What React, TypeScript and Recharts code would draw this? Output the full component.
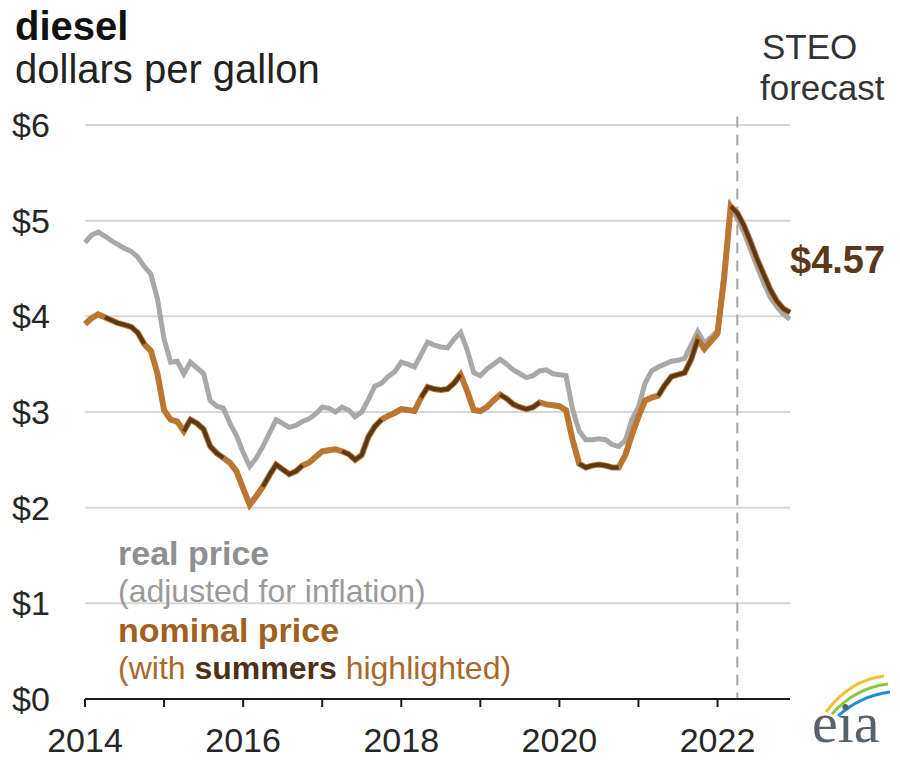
import { CartesianGrid, Line, LineChart, ReferenceLine, XAxis, YAxis } from "recharts";
import { type JSX } from "react";

// monthly, Jan 2014 .. Dec 2022 (index 0..107)
const startYear = 2014;

const realPrice: number[] = [
  // 2014
  4.77, 4.85, 4.88, 4.84, 4.79, 4.75, 4.71, 4.68, 4.62, 4.52, 4.44, 4.18,
  // 2015
  3.76, 3.52, 3.53, 3.4, 3.52, 3.46, 3.4, 3.12, 3.06, 3.04, 2.88, 2.75,
  // 2016
  2.58, 2.43, 2.52, 2.64, 2.78, 2.92, 2.88, 2.84, 2.86, 2.9, 2.93, 2.98,
  // 2017
  3.05, 3.04, 3.0, 3.05, 3.02, 2.95, 3.0, 3.13, 3.27, 3.3, 3.37, 3.42,
  // 2018
  3.52, 3.5, 3.47, 3.6, 3.73, 3.7, 3.68, 3.67, 3.76, 3.83, 3.65, 3.41,
  // 2019
  3.38, 3.45, 3.5, 3.55, 3.5, 3.44, 3.4, 3.36, 3.38, 3.43, 3.44, 3.4,
  // 2020
  3.39, 3.38, 3.03, 2.8, 2.71, 2.71, 2.72, 2.71, 2.66, 2.64, 2.7, 2.92,
  // 2021
  3.05, 3.3, 3.43, 3.47, 3.5, 3.53, 3.54, 3.56, 3.7, 3.84, 3.72, 3.78,
  // 2022
  3.85, 4.45, 5.15, 5.02, 4.88, 4.7, 4.52, 4.35, 4.2, 4.1, 4.02, 3.97,
];

const nominalPrice: number[] = [
  // 2014
  3.92, 3.98, 4.02, 3.99, 3.96, 3.93, 3.91, 3.89, 3.83, 3.71, 3.64, 3.4,
  // 2015
  3.02, 2.92, 2.9, 2.8, 2.92, 2.88, 2.82, 2.64, 2.57, 2.52, 2.47, 2.38,
  // 2016
  2.2, 2.03, 2.12, 2.22, 2.34, 2.45, 2.4, 2.35, 2.38, 2.44, 2.47, 2.53,
  // 2017
  2.59, 2.6, 2.61, 2.59, 2.56, 2.5, 2.55, 2.74, 2.85, 2.92, 2.96, 2.99,
  // 2018
  3.03, 3.02, 3.01, 3.15, 3.26, 3.24, 3.23, 3.24, 3.3, 3.39, 3.22, 3.02,
  // 2019
  3.01, 3.05, 3.12, 3.18, 3.14, 3.08, 3.05, 3.03, 3.05, 3.1, 3.08, 3.07,
  // 2020
  3.06, 3.02, 2.71, 2.46, 2.42, 2.44, 2.45, 2.44, 2.42, 2.42, 2.55, 2.76,
  // 2021
  2.95, 3.12, 3.15, 3.17, 3.28, 3.37, 3.39, 3.41, 3.55, 3.76, 3.66, 3.74,
  // 2022
  3.82, 4.4, 5.15, 5.08, 4.95, 4.78, 4.6, 4.44, 4.28, 4.16, 4.08, 4.04,
];

// April..October points => summer segment Apr-Sep
const summerMonths = [3, 4, 5, 6, 7, 8, 9];
const forecastStart = 98; // Mar 2022 onward drawn dark
const forecastLine = 99;

const yearTicks = [0, 12, 24, 36, 48, 60, 72, 84, 96];
const priceTicks = [0, 1, 2, 3, 4, 5, 6];

const rows = realPrice.map((r, i) => ({
  i,
  real: r,
  nominal: nominalPrice[i],
  summer:
    summerMonths.includes(i % 12) || i >= forecastStart ? nominalPrice[i] : null,
}));

const FONT = "'Liberation Sans', Arial, sans-serif";

const YTick = ({ y, payload }: any) => (
  <text x={12} y={y} dy={12} fontSize={34} fontFamily={FONT} fill="#262626">
    {"$" + payload.value}
  </text>
);

const XTick = ({ x, payload }: any) => {
  const year = startYear + payload.value / 12;
  if (year % 2 !== 0) return <g />;
  return (
    <text x={x} y={752} textAnchor="middle" fontSize={34} fontFamily={FONT} fill="#262626">
      {year}
    </text>
  );
};

const App = (): JSX.Element => {
  return (
    <div style={{ position: "absolute", left: 0, top: 0, width: 900, height: 761, background: "#fff" }}>
      <LineChart
        width={900}
        height={761}
        data={rows}
        margin={{ top: 125, right: 110, bottom: 0, left: 0 }}
      >
        <CartesianGrid vertical={false} stroke="#d6d6d6" strokeWidth={2} />
        <XAxis
          dataKey="i"
          type="number"
          domain={[0, 107]}
          ticks={yearTicks}
          height={62}
          interval={0}
          stroke="#1a1a1a"
          strokeWidth={2}
          tickSize={8}
          tick={<XTick />}
        />
        <YAxis
          domain={[0, 6]}
          ticks={priceTicks}
          width={85}
          interval={0}
          axisLine={false}
          tickLine={false}
          tick={<YTick />}
        />
        <ReferenceLine
          segment={[
            { x: forecastLine, y: 6.09 },
            { x: forecastLine, y: 0 },
          ]}
          ifOverflow="visible"
          stroke="#a6a6a6"
          strokeWidth={2}
          strokeDasharray="11 7"
        />
        <Line dataKey="real" stroke="#a8a8a8" strokeWidth={5} dot={false} isAnimationActive={false} />
        <Line dataKey="nominal" stroke="#bb7632" strokeWidth={6} dot={false} isAnimationActive={false} />
        <Line
          dataKey="summer"
          stroke="#5a3818"
          strokeWidth={4}
          dot={false}
          connectNulls={false}
          isAnimationActive={false}
        />
      </LineChart>
      <svg
        width={900}
        height={761}
        style={{ position: "absolute", left: 0, top: 0, pointerEvents: "none" }}
        fontFamily={FONT}
      >
        <text x={15} y={40} fontSize={40} fontWeight="bold" fill="#111">diesel</text>
        <text x={15} y={83} fontSize={40} fill="#222">dollars per gallon</text>
        <text x={762} y={59} fontSize={35} fill="#333">STEO</text>
        <text x={760} y={100} fontSize={35} fill="#333">forecast</text>
        <text x={790} y={273} fontSize={38} fontWeight="bold" fill="#5a3818">$4.57</text>
        <text x={118} y={565} fontSize={34} fontWeight="bold" fill="#8f8f8f">real price</text>
        <text x={118} y={602} fontSize={32} fill="#9a9a9a">(adjusted for inflation)</text>
        <text x={118} y={642} fontSize={34} fontWeight="bold" fill="#a0611f">nominal price</text>
        <text x={118} y={679} fontSize={32} fill="#a8692b">
          (with <tspan fontWeight="bold" fill="#4e3016">summers</tspan> highlighted)
        </text>
        <path d="M826 712 Q850 680 884 676" stroke="#f2c12e" strokeWidth={3} fill="none" />
        <path d="M832 714 Q855 688 888 684" stroke="#8cc63f" strokeWidth={3} fill="none" />
        <path d="M838 716 Q860 696 890 692" stroke="#1f8fd0" strokeWidth={3} fill="none" />
        <text x={812} y={742} fontSize={58} fontFamily="'Liberation Serif', serif" fill="#56626c">eia</text>
      </svg>
    </div>
  );
};

export default App;
